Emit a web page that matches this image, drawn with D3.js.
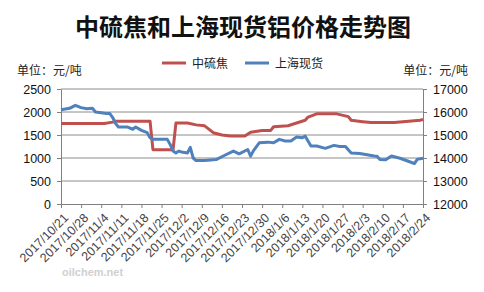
<!DOCTYPE html>
<html>
<head>
<meta charset="utf-8">
<script src="https://cdn.jsdelivr.net/npm/d3@7"></script>
<style>
  body { margin: 0; background: #fff; }
  text { font-family: "Liberation Sans", "Noto Sans CJK SC", sans-serif; }
</style>
</head>
<body>
<div id="chart"></div>
<script>
// 中硫焦 (left axis, 元/吨)
var cokeDates = ["2017-10-21","2017-11-05","2017-11-08","2017-11-09","2017-11-21","2017-11-22","2017-11-29","2017-11-30",
  "2017-12-04","2017-12-07","2017-12-10","2017-12-13","2017-12-16","2017-12-19","2017-12-24","2017-12-26","2017-12-30",
  "2018-01-02","2018-01-03","2018-01-08","2018-01-14","2018-01-15","2018-01-18","2018-01-25","2018-01-29","2018-01-30",
  "2018-02-03","2018-02-06","2018-02-14","2018-02-23","2018-02-24"];
var cokeValues = [1750,1750,1780,1800,1800,1180,1180,1760,
  1760,1720,1700,1550,1500,1480,1480,1560,1600,
  1600,1680,1700,1820,1890,1960,1960,1900,1820,
  1790,1770,1770,1820,1840];

// 上海现货铝 (right axis, 元/吨)
var alDates = ["2017-10-21","2017-10-24","2017-10-26","2017-10-28","2017-10-30","2017-11-01","2017-11-02","2017-11-04",
  "2017-11-06","2017-11-07","2017-11-08","2017-11-09","2017-11-10","2017-11-13","2017-11-15","2017-11-16","2017-11-18",
  "2017-11-20","2017-11-21","2017-11-22","2017-11-27","2017-11-28","2017-11-29","2017-11-30","2017-12-01","2017-12-02",
  "2017-12-04","2017-12-05","2017-12-06","2017-12-07","2017-12-10","2017-12-14","2017-12-17","2017-12-20","2017-12-22",
  "2017-12-25","2017-12-26","2017-12-27","2017-12-29","2018-01-01","2018-01-03","2018-01-05","2018-01-07","2018-01-09",
  "2018-01-11","2018-01-13","2018-01-14","2018-01-16","2018-01-18","2018-01-21","2018-01-24","2018-01-26","2018-01-28",
  "2018-01-30","2018-02-02","2018-02-07","2018-02-08","2018-02-09","2018-02-11","2018-02-13","2018-02-16","2018-02-21",
  "2018-02-22","2018-02-24"];
var alValues = [16100,16160,16290,16190,16140,16160,16000,15970,
  15930,15930,15760,15500,15350,15350,15250,15350,15200,
  15100,14880,14810,14810,14590,14300,14220,14300,14260,
  14220,14460,14000,13890,13890,13930,14120,14300,14180,
  14370,14080,14320,14660,14690,14660,14810,14740,14740,
  14910,14880,14950,14520,14520,14420,14550,14500,14500,
  14220,14200,14090,14080,13940,13920,14090,13990,13760,
  13940,13990];

var leftTicks = [0,500,1000,1500,2000,2500];
var rightTicks = [12000,13000,14000,15000,16000,17000];
var seriesNames = ["中硫焦","上海现货"];
var seriesColors = ["#C0504D","#4F81BD"];

var w = 484, h = 292;
var margin = {left: 61, right: 62, top: 89, bottom: 88};

var parse = d3.timeParse("%Y-%m-%d");
var fmt = d3.timeFormat("%Y/%-m/%-d");
var start = parse("2017-10-21"), end = parse("2018-02-24");

var svg = d3.select("#chart").append("svg")
  .attr("width", w).attr("height", h);

var x = d3.scaleTime().domain([start, end]).range([margin.left, w - margin.right + 1]);
var yL = d3.scaleLinear().domain([0, 2500]).range([h - margin.bottom, margin.top]);
var yR = d3.scaleLinear().domain([12000, 17000]).range([h - margin.bottom, margin.top]);

// title
svg.append("text")
  .attr("x", 243).attr("y", 36)
  .attr("text-anchor", "middle")
  .style("font-family", "'Noto Sans CJK SC'")
  .style("font-size", "24px").style("font-weight", "bold")
  .attr("fill", "#111")
  .text("中硫焦和上海现货铝价格走势图");

// unit labels
svg.append("text").attr("x", 17).attr("y", 75)
  .style("font-family", "'Noto Sans CJK SC'").style("font-size", "12px").attr("fill", "#222")
  .text("单位：元/吨");
svg.append("text").attr("x", 468).attr("y", 75).attr("text-anchor", "end")
  .style("font-family", "'Noto Sans CJK SC'").style("font-size", "12px").attr("fill", "#222")
  .text("单位：元/吨");

// legend
var legX = [162, 245];
seriesNames.forEach(function(n, i) {
  svg.append("line").attr("x1", legX[i]).attr("x2", legX[i] + 24)
    .attr("y1", 63).attr("y2", 63)
    .attr("stroke", seriesColors[i]).attr("stroke-width", 3);
  svg.append("text").attr("x", legX[i] + 30).attr("y", 67.5)
    .style("font-family", "'Noto Sans CJK SC'").style("font-size", "12px").attr("fill", "#222")
    .text(n);
});

// gridlines
svg.selectAll("line.grid")
  .data(leftTicks.slice(1))
  .enter()
  .append("line")
  .attr("class", "grid")
  .attr("x1", margin.left).attr("x2", w - margin.right + 1)
  .attr("y1", function(d){ return yL(d); })
  .attr("y2", function(d){ return yL(d); })
  .attr("stroke", "#8c8c8c").attr("stroke-width", 1);

// axes
var weekTicks = d3.timeDay.range(start, d3.timeDay.offset(end, 1), 7);

var gx = svg.append("g").attr("transform", "translate(0," + (h - margin.bottom) + ")")
  .call(d3.axisBottom(x).tickValues(weekTicks).tickFormat(fmt).tickSize(4).tickSizeOuter(0));
gx.selectAll("text")
  .attr("transform", "rotate(-45)")
  .attr("text-anchor", "end")
  .attr("dx", "-0.4em").attr("dy", "0.7em")
  .style("font-size", "12.5px").attr("fill", "#444");

var gl = svg.append("g").attr("transform", "translate(" + margin.left + ",0)")
  .call(d3.axisLeft(yL).tickValues(leftTicks).tickFormat(d3.format("d")).tickSize(4).tickSizeOuter(0));
gl.selectAll("text").style("font-size", "12.5px").attr("fill", "#111").attr("x", -10);

var gr = svg.append("g").attr("transform", "translate(" + (w - margin.right + 1) + ",0)")
  .call(d3.axisRight(yR).tickValues(rightTicks).tickFormat(d3.format("d")).tickSize(4).tickSizeOuter(0));
gr.selectAll("text").style("font-size", "12.5px").attr("fill", "#111").attr("x", 10);

svg.selectAll(".domain, .tick line").attr("stroke", "#808080");

// lines
var coke = cokeDates.map(function(d, i){ return [parse(d), cokeValues[i]]; });
var al = alDates.map(function(d, i){ return [parse(d), alValues[i]]; });

svg.append("path").datum(coke)
  .attr("fill", "none").attr("stroke", seriesColors[0]).attr("stroke-width", 3)
  .attr("stroke-linejoin", "round")
  .attr("d", d3.line().x(function(d){ return x(d[0]); }).y(function(d){ return yL(d[1]); }));

svg.append("path").datum(al)
  .attr("fill", "none").attr("stroke", seriesColors[1]).attr("stroke-width", 3)
  .attr("stroke-linejoin", "round")
  .attr("d", d3.line().x(function(d){ return x(d[0]); }).y(function(d){ return yR(d[1]); }));

// watermark
svg.append("text").attr("x", 62).attr("y", 276)
  .style("font-size", "11px").style("font-weight", "bold").attr("fill", "#d0d0d0")
  .text("oilchem.net");
</script>
</body>
</html>
